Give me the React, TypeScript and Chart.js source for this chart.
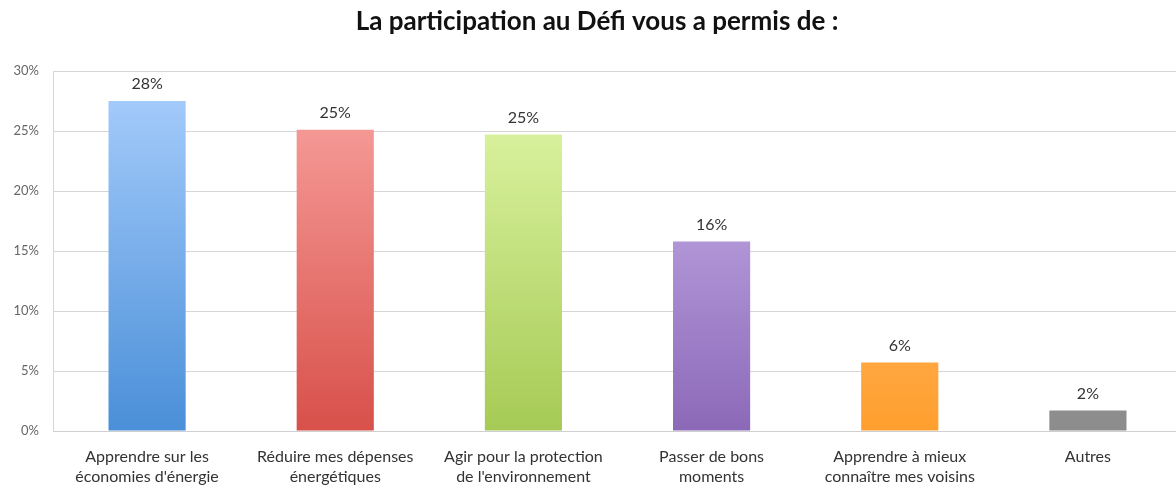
import React, { useEffect, useRef } from "react";
import { Chart, registerables } from "chart.js";

Chart.register(...registerables);

const titleText = "La participation au Défi vous a permis de :";
const categories: string[][] = [
  ["Apprendre sur les", "économies d'énergie"],
  ["Réduire mes dépenses", "énergétiques"],
  ["Agir pour la protection", "de l'environnement"],
  ["Passer de bons", "moments"],
  ["Apprendre à mieux", "connaître mes voisins"],
  ["Autres"],
];
const values: number[] = [27.5, 25.1, 24.7, 15.8, 5.7, 1.7];
const valueLabels: string[] = ["28%", "25%", "25%", "16%", "6%", "2%"];
const topColors: string[] = ["#aacffd", "#faa6a3", "#e2f9ab", "#d0bcf2", "#ffc487", "#8d8d8d"];
const bottomColors: string[] = ["#4a8fd8", "#d8504a", "#a6ca55", "#8c69b8", "#ff9f2e", "#8d8d8d"];

const FONT = "Lato, 'Open Sans', sans-serif";
const CANVAS_W = 1182;

const titlePlugin = {
  id: "customTitle",
  afterDraw(chart: any) {
    const ctx = chart.ctx;
    ctx.save();
    ctx.font = `bold 26px ${FONT}`;
    ctx.fillStyle = "#111";
    ctx.textAlign = "center";
    ctx.textBaseline = "alphabetic";
    ctx.fillText(titleText, 597, 30);
    ctx.restore();
  },
};

const valueLabelPlugin = {
  id: "valueLabels",
  afterDatasetsDraw(chart: any) {
    const ctx = chart.ctx;
    const meta = chart.getDatasetMeta(0);
    ctx.save();
    ctx.font = `16px ${FONT}`;
    ctx.fillStyle = "#333";
    ctx.textAlign = "center";
    ctx.textBaseline = "middle";
    meta.data.forEach((bar: any, i: number) => {
      ctx.fillText(valueLabels[i], bar.x, bar.y - 17);
    });
    ctx.restore();
  },
};

export default function App() {
  const ref = useRef<HTMLCanvasElement>(null);
  useEffect(() => {
    document.body.style.margin = "0";
    if (!ref.current) return;
    const chart = new Chart(ref.current, {
      type: "bar",
      data: {
        labels: categories,
        datasets: [
          {
            data: values,
            backgroundColor: (c: any) => {
              const area = c.chart.chartArea;
              const i = c.dataIndex;
              if (!area || i === undefined) return topColors[i || 0];
              const g = c.chart.ctx.createLinearGradient(0, area.top, 0, area.bottom);
              g.addColorStop(0, topColors[i]);
              g.addColorStop(1, bottomColors[i]);
              return g;
            },
            borderWidth: 0,
            barPercentage: 0.41,
            categoryPercentage: 1,
          },
        ],
      },
      options: {
        animation: false,
        responsive: false,
        layout: { padding: { top: 71, right: 0, left: 0, bottom: 0 } },
        plugins: {
          legend: { display: false },
          title: { display: false },
          tooltip: { enabled: false },
        },
        scales: {
          x: {
            grid: { display: false },
            border: { display: true, color: "#cfcfcf" },
            ticks: {
              color: "#333",
              font: { family: FONT, size: 16, lineHeight: 1.3 },
              padding: 7,
              maxRotation: 0,
              autoSkip: false,
            },
            afterFit: (s: any) => {
              s.height = 57;
            },
          },
          y: {
            min: 0,
            max: 30,
            grid: { color: "#d6d6d6", drawTicks: false },
            border: { display: true, color: "#d6d6d6" },
            ticks: {
              stepSize: 5,
              color: "#666",
              font: { family: FONT, size: 13 },
              padding: 14,
              callback: (v: any) => v + "%",
            },
            afterFit: (s: any) => {
              s.width = 53;
            },
          },
        },
      },
      plugins: [titlePlugin, valueLabelPlugin],
    });
    return () => chart.destroy();
  }, []);
  return (
    <div style={{ position: "absolute", left: 0, top: 0, width: 1176, height: 488, background: "#fff", overflow: "hidden" }}>
      <canvas ref={ref} width={CANVAS_W} height={488} style={{ width: CANVAS_W, height: 488 }} />
    </div>
  );
}
